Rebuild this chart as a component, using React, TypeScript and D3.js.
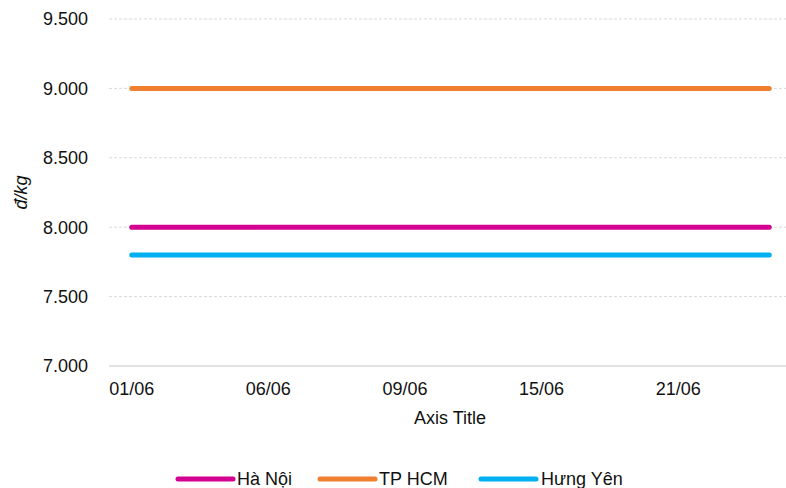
import React from "react";
import * as d3 from "d3";

const categories = ["01/06","02/06","05/06","06/06","07/06","08/06","09/06","12/06","14/06","15/06","16/06","19/06","21/06","22/06","23/06"];
const haNoi = [8000,8000,8000,8000,8000,8000,8000,8000,8000,8000,8000,8000,8000,8000,8000];
const tpHcm = [9000,9000,9000,9000,9000,9000,9000,9000,9000,9000,9000,9000,9000,9000,9000];
const hungYen = [7800,7800,7800,7800,7800,7800,7800,7800,7800,7800,7800,7800,7800,7800,7800];
const yTicks = [7000,7500,8000,8500,9000,9500];
const labelEvery = 3;

const seriesList = [
  { name: "Hà Nội", values: haNoi, color: "#D4008F" },
  { name: "TP HCM", values: tpHcm, color: "#F08030" },
  { name: "Hưng Yên", values: hungYen, color: "#00B0F0" },
];

const W = 786, H = 488;
const left = 109, right = 792, top = 19, bottom = 366;
const font = "'Liberation Sans', Arial, sans-serif";
const fs = 18;

export default function App() {
  const x = d3.scaleBand<string>().domain(categories).range([left, right]);
  const cx = (c: string) => (x(c) as number) + x.bandwidth() / 2;
  const y = d3.scaleLinear().domain([7000, 9500]).range([bottom, top]);
  const fmt = (v: number) => d3.format(",.3f")(v / 1000).replace(",", "");
  const line = d3.line<number>().x((_, i) => cx(categories[i])).y((v) => y(v));

  const legendItems = [
    { sx: 178, tx: 237 },
    { sx: 320, tx: 379 },
    { sx: 481, tx: 541 },
  ];

  return (
    <svg width={W} height={H} style={{ position: "absolute", left: 0, top: 0, background: "#fff" }} fontFamily={font}>
      {yTicks.map((t) => (
        <g key={t}>
          {t !== 7000 && (
            <line x1={left} x2={right} y1={y(t)} y2={y(t)} stroke="#D9D9D9" strokeWidth={1} strokeDasharray="3,2" />
          )}
          <text x={88} y={y(t)} dy="0.35em" textAnchor="end" fontSize={fs} fill="#111">{fmt(t)}</text>
        </g>
      ))}
      <line x1={left} x2={right} y1={bottom} y2={bottom} stroke="#D9D9D9" strokeWidth={1.5} />
      {categories.map((c, i) =>
        i % labelEvery === 0 ? (
          <text key={c} x={cx(c)} y={389} dy="0.35em" textAnchor="middle" fontSize={fs} fill="#111">{c}</text>
        ) : null
      )}
      <text x={450} y={418} dy="0.35em" textAnchor="middle" fontSize={fs} fill="#111">Axis Title</text>
      <text transform={`translate(21,${(top + bottom) / 2}) rotate(-90)`} dy="0.35em" textAnchor="middle" fontSize={fs} fontStyle="italic" fill="#111">đ/kg</text>
      {seriesList.map((s) => (
        <path key={s.name} d={line(s.values) || ""} fill="none" stroke={s.color} strokeWidth={5} strokeLinecap="round" />
      ))}
      {seriesList.map((s, i) => (
        <g key={s.name}>
          <line x1={legendItems[i].sx} x2={legendItems[i].sx + 55} y1={479} y2={479} stroke={s.color} strokeWidth={5} strokeLinecap="round" />
          <text x={legendItems[i].tx} y={479} dy="0.35em" fontSize={fs} fill="#111">{s.name}</text>
        </g>
      ))}
    </svg>
  );
}
